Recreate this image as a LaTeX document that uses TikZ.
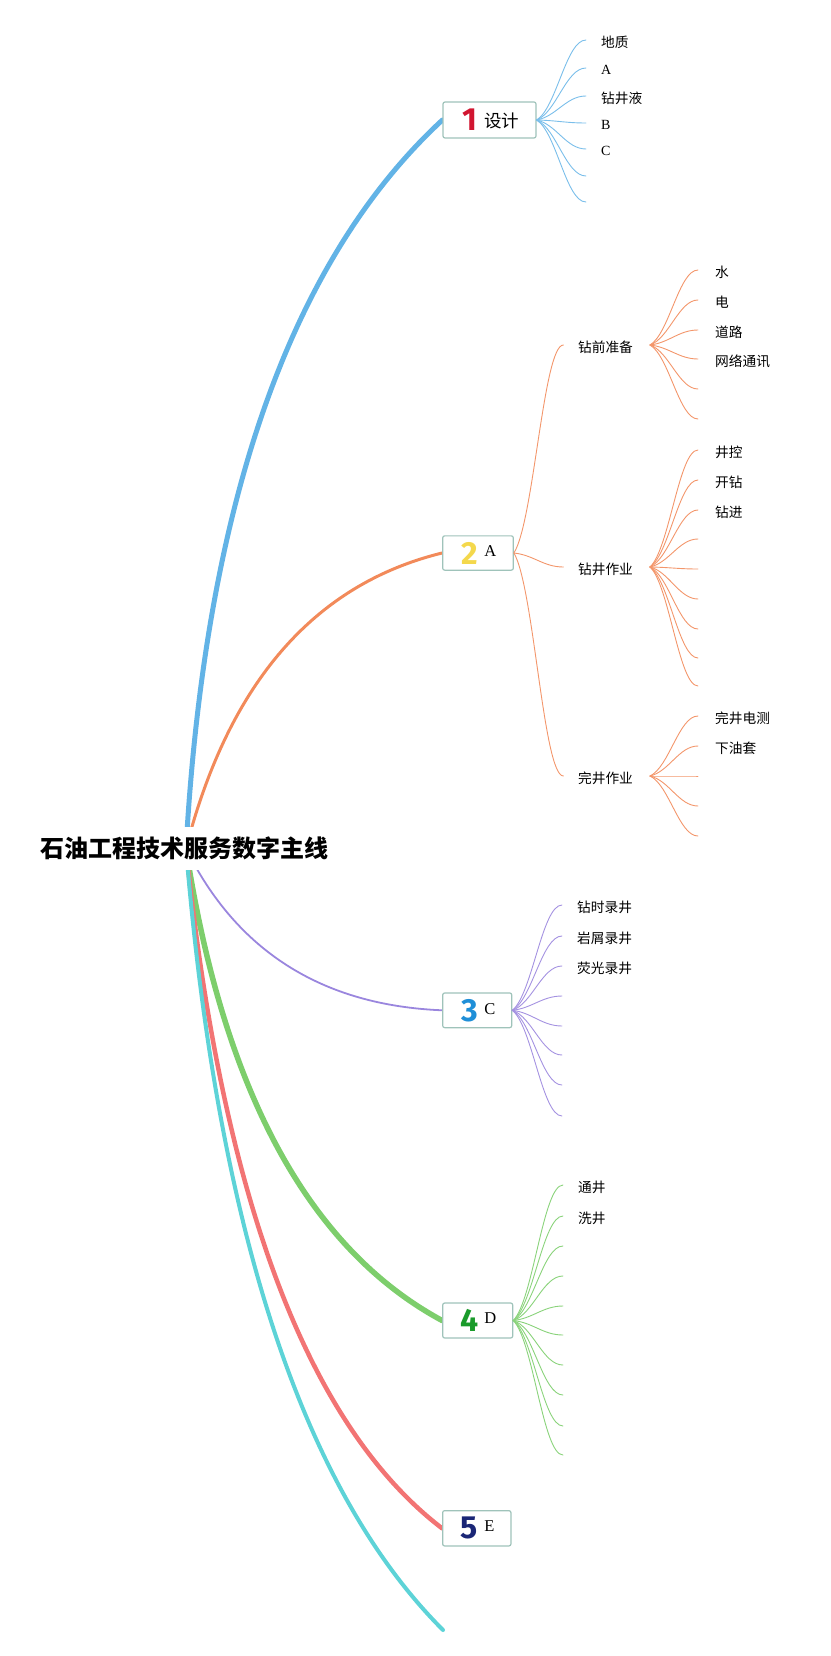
\documentclass[tikz,border=0pt]{standalone}
\usepackage{fontspec}
\setmainfont{Liberation Serif}
\newfontfamily\cjk{Noto Sans CJK SC}
\newfontfamily\digf{Fira Sans}
\usetikzlibrary{calc,backgrounds}
\definecolor{cBlue}{HTML}{62B3E6}
\definecolor{cOrange}{HTML}{F28A5A}
\definecolor{cPurple}{HTML}{9A86DE}
\definecolor{cGreen}{HTML}{7DCE6C}
\definecolor{cRed}{HTML}{F27474}
\definecolor{cCyan}{HTML}{5DD3D7}
\definecolor{boxc}{HTML}{9FC3BA}
\definecolor{dRed}{HTML}{D11530}
\definecolor{dYellow}{HTML}{F4D84C}
\definecolor{dBlue}{HTML}{1F8FD8}
\definecolor{dGreen}{HTML}{1A9B2B}
\definecolor{dNavy}{HTML}{1A2676}
\tikzset{
  topicbox/.style={draw=boxc, fill=white, rounded corners=2pt, line width=1.2pt, inner sep=0pt},
  digit/.style={inner sep=0pt, font=\digf\bfseries\fontsize{32}{34}\selectfont},
  boxcjk/.style={anchor=west, inner sep=0pt, font=\cjk\fontsize{17.5}{20}\selectfont},
  boxlat/.style={anchor=west, inner sep=0pt, font=\rmfamily\fontsize{16.5}{19}\selectfont},
  leafcjk/.style={anchor=west, inner sep=0pt, font=\cjk\fontsize{13.7}{16}\selectfont},
  leaflat/.style={anchor=west, inner sep=0pt, font=\rmfamily\fontsize{14}{16}\selectfont},
  twig/.style={line width=0.9pt, line cap=round},
  mainline/.style={line cap=round}
}
% #1 hub name, #2 end x, #3 end pull, #4 list of y, #5 colour, #6 start push
\newcommand\leaffan[6]{%
  \foreach \yy [count=\i] in {#4} {
    \coordinate (#1-\i) at (#2,\yy);
    \draw[twig, #5] (#1) .. controls ($(#1)!0.15!(#1-\i)+(#6,0)$) and ($(#1-\i)+(-#3,0)$) .. (#1-\i);
  }%
}
\begin{document}
\begin{tikzpicture}[x=1pt,y=-1pt]
\useasboundingbox (0,0) rectangle (830,1656);

% root
\node[fill=white, inner xsep=3pt, inner ysep=0pt, minimum height=43pt,
      font=\cjk\bfseries\fontsize{24}{28}\selectfont] (root) at (184.5,848.5)
      {\raisebox{-3.5pt}{石油工程技术服务数字主线}};

% topic boxes
\node[topicbox, minimum width=93pt, minimum height=36pt] (n1) at (489.5,120) {};
\node[digit, text=dRed] (n1d) at ($(n1.west)+(27.5,0)$) {1};
\node[boxcjk] (n1t) at ($(n1.west)+(41.5,1)$) {设计};

\node[topicbox, minimum width=70.6pt, minimum height=34.3pt] (n2) at (478,553) {};
\node[digit, text=dYellow] (n2d) at ($(n2.west)+(27.5,0)$) {2};
\node[boxlat] (n2t) at ($(n2.west)+(42,-2)$) {A};

\node[topicbox, minimum width=69pt, minimum height=34.7pt] (n3) at (477.2,1010.3) {};
\node[digit, text=dBlue] (n3d) at ($(n3.west)+(27.5,0)$) {3};
\node[boxlat] (n3t) at ($(n3.west)+(42,-1.5)$) {C};

\node[topicbox, minimum width=70pt, minimum height=35pt] (n4) at (477.7,1320.5) {};
\node[digit, text=dGreen] (n4d) at ($(n4.west)+(27.5,0)$) {4};
\node[boxlat] (n4t) at ($(n4.west)+(42,-2)$) {D};

\node[topicbox, minimum width=68.3pt, minimum height=35.3pt] (n5) at (476.8,1528.3) {};
\node[digit, text=dNavy] (n5d) at ($(n5.west)+(27.5,0)$) {5};
\node[boxlat] (n5t) at ($(n5.west)+(42,-2.5)$) {E};

\coordinate (n6) at (443,1630);
\coordinate (o) at ($(root.center)+(1.5,0)$);

% main branches (behind root text)
\begin{pgfonlayer}{background}
\draw[mainline, cBlue, line width=5pt] (o) .. controls (205.3,502.7) and (291,260) .. (n1.west);
\draw[mainline, cOrange, line width=3pt] (o) .. controls (228.7,682.7) and (314.3,584.3) .. (n2.west);
\draw[mainline, cPurple, line width=1.8pt] (o) .. controls (236.7,951.3) and (322.3,1005.3) .. (n3.west);
\draw[mainline, cGreen, line width=5.5pt] (o) .. controls (223.3,1091.3) and (309,1248.7) .. (n4.west);
\draw[mainline, cRed, line width=4.5pt] (o) .. controls (222,1198.7) and (307.7,1425.3) .. (n5.west);
\draw[mainline, cCyan, line width=4pt] (o) .. controls (217.3,1229.3) and (303,1490) .. (n6);
\end{pgfonlayer}

% topic 1 leaves
\coordinate (h1) at (n1.east);
\leaffan{h1}{586}{20}{40,68,96,123,149,176,202}{cBlue!85!white}{12.5}
\node[leafcjk] (l1a) at ($(h1-1)+(15,2)$) {地质};
\node[leaflat] (l1b) at ($(h1-2)+(15,1.5)$) {A};
\node[leafcjk] (l1c) at ($(h1-3)+(15,2)$) {钻井液};
\node[leaflat] (l1d) at ($(h1-4)+(15,1.5)$) {B};
\node[leaflat] (l1e) at ($(h1-5)+(15,1.5)$) {C};

% topic 2 sub-topics
\node[leafcjk, anchor=center, inner xsep=14.5pt] (s1) at (605.5,347) {钻前准备};
\node[leafcjk, anchor=center, inner xsep=14.5pt] (s2) at (605.5,569) {钻井作业};
\node[leafcjk, anchor=center, inner xsep=14.5pt] (s3) at (605.5,778) {完井作业};
\foreach \s in {s1,s2,s3} {
  \draw[twig, cOrange!90!white] (n2.east) .. controls ($(n2.east)!0.15!($(\s.west)+(0,-2)$)+(12.5,0)$) and ($(\s.west)+(-20,-2)$) .. ($(\s.west)+(0,-2)$);
}
\coordinate (h21) at (650,345);
\coordinate (h22) at (650,567);
\coordinate (h23) at (650,776);
\leaffan{h21}{698}{19}{270,300,330,359,389,419}{cOrange!90!white}{12}
\leaffan{h22}{698}{19}{450,480,510,539,569,599,629,658,686}{cOrange!90!white}{12}
\leaffan{h23}{698}{19}{716,746,776,806,836}{cOrange!90!white}{12}
\node[leafcjk] (l21a) at ($(h21-1)+(17,2)$) {水};
\node[leafcjk] (l21b) at ($(h21-2)+(17,2)$) {电};
\node[leafcjk] (l21c) at ($(h21-3)+(17,2)$) {道路};
\node[leafcjk] (l21d) at ($(h21-4)+(17,2)$) {网络通讯};
\node[leafcjk] (l22a) at ($(h22-1)+(17,2)$) {井控};
\node[leafcjk] (l22b) at ($(h22-2)+(17,2)$) {开钻};
\node[leafcjk] (l22c) at ($(h22-3)+(17,2)$) {钻进};
\node[leafcjk] (l23a) at ($(h23-1)+(17,2)$) {完井电测};
\node[leafcjk] (l23b) at ($(h23-2)+(17,2)$) {下油套};

% topic 3 leaves
\coordinate (h3) at (n3.east);
\leaffan{h3}{562}{20}{905,936,966,996,1026,1055,1085,1116}{cPurple!90!white}{12.5}
\node[leafcjk] (l3a) at ($(h3-1)+(15,2)$) {钻时录井};
\node[leafcjk] (l3b) at ($(h3-2)+(15,2)$) {岩屑录井};
\node[leafcjk] (l3c) at ($(h3-3)+(15,2)$) {荧光录井};

% topic 4 leaves
\coordinate (h4) at (n4.east);
\leaffan{h4}{563}{20}{1185,1216,1246,1276,1306,1335,1365,1395,1426,1455}{cGreen!90!white}{12.5}
\node[leafcjk] (l4a) at ($(h4-1)+(15,2)$) {通井};
\node[leafcjk] (l4b) at ($(h4-2)+(15,2)$) {洗井};
\end{tikzpicture}
\end{document}
